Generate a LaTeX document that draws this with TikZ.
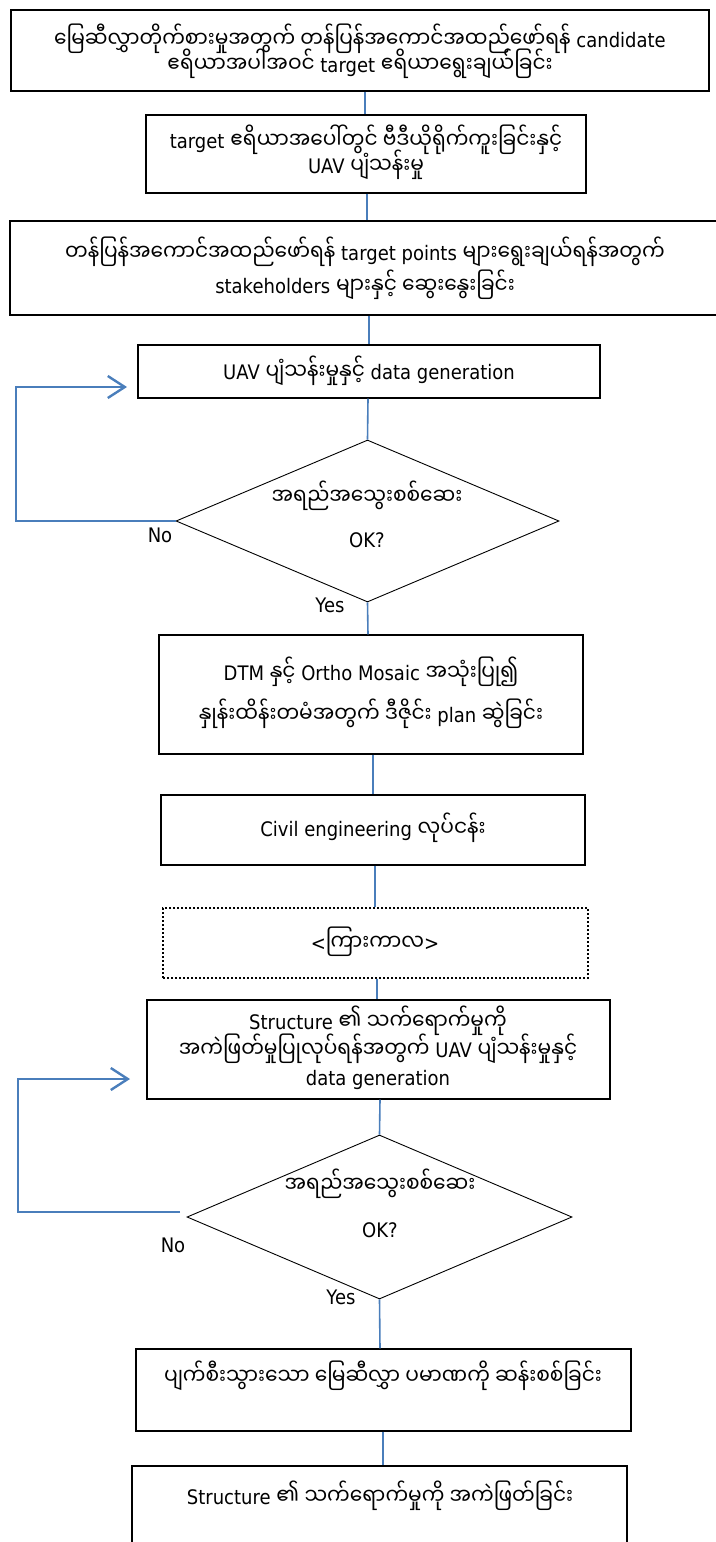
\documentclass[tikz,border=0pt]{standalone}
\usepackage{fontspec}
\setmainfont{DejaVu Sans}[FakeStretch=0.9]
\newfontfamily\myfont[Script=Myanmar,Scale=1.12,FakeStretch=0.9]{Noto Sans Myanmar UI}
\newcommand{\my}[1]{{\myfont #1}}
\usetikzlibrary{shapes.geometric,arrows.meta}
\definecolor{linkblue}{RGB}{74,126,187}

\begin{document}
\begin{tikzpicture}[x=1pt,y=-1pt,
  box/.style={draw, rectangle, line width=1.3pt, inner sep=0pt},
  dotbox/.style={draw, rectangle, line width=2pt, dash pattern=on 2pt off 2pt, inner sep=0pt},
  decision/.style={draw, diamond, line width=0.9pt, inner sep=0pt},
  txt/.style={inner sep=0pt, anchor=mid, font=\fontsize{20}{24}\selectfont},
  conn/.style={draw=linkblue, line width=1.6pt},
  back/.style={draw=linkblue, line width=2pt, -{Straight Barb[length=17pt,width=22pt,line width=2.4pt]}}
]
\useasboundingbox (0,0) rectangle (715,1542);

% process boxes
\node[box, minimum width=698pt, minimum height=81pt] (b1) at (360,50.5) {};
\node[box, minimum width=440pt, minimum height=78pt] (b2) at (366,154) {};
\node[box, minimum width=720pt, minimum height=94pt] (b3) at (370,268) {};
\node[box, minimum width=462pt, minimum height=53pt] (b4) at (369,371.5) {};
\node[decision, minimum width=383pt, minimum height=162pt] (d1) at (367.5,521) {};
\node[box, minimum width=424pt, minimum height=119pt] (b5) at (371,694.5) {};
\node[box, minimum width=424pt, minimum height=70pt] (b6) at (373,830) {};
\node[dotbox, minimum width=425pt, minimum height=70pt] (b7) at (375.5,943) {};
\node[box, minimum width=463pt, minimum height=99pt] (b8) at (378.5,1049.5) {};
\node[decision, minimum width=385pt, minimum height=164pt] (d2) at (379.5,1217) {};
\node[box, minimum width=495pt, minimum height=82pt] (b9) at (383.5,1390) {};
\node[box, minimum width=495pt, minimum height=94pt] (b10) at (379.5,1513) {};

% box texts
\node[txt] (t1a) at (360,45) {\my{မြေဆီလွှာတိုက်စားမှုအတွက် တန်ပြန်အကောင်အထည်ဖော်ရန်} candidate};
\node[txt] (t1b) at (360,70) {\my{ဧရိယာအပါအဝင်} target \my{ဧရိယာရွေးချယ်ခြင်း}};
\node[txt] (t2a) at (366,146) {target \my{ဧရိယာအပေါ်တွင် ဗီဒီယိုရိုက်ကူးခြင်းနှင့်}};
\node[txt] (t2b) at (366,171) {UAV \my{ပျံသန်းမှု}};
\node[txt] (t3a) at (365,258) {\my{တန်ပြန်အကောင်အထည်ဖော်ရန်} target points \my{များရွေးချယ်ရန်အတွက်}};
\node[txt] (t3b) at (365,291) {stakeholders \my{များနှင့် ဆွေးနွေးခြင်း}};
\node[txt] (t4) at (369,377) {UAV \my{ပျံသန်းမှုနှင့်} data generation};
\node[txt] (td1a) at (367,502) {\my{အရည်အသွေးစစ်ဆေး}};
\node[txt] (td1b) at (367,545) {OK?};
\node[txt] (t5a) at (371,678) {DTM \my{နှင့်} Ortho Mosaic \my{အသုံးပြု၍}};
\node[txt] (t5b) at (371,720) {\my{နှုန်းထိန်းတမံအတွက် ဒီဇိုင်း} plan \my{ဆွဲခြင်း}};
\node[txt] (t6) at (373,834) {Civil engineering \my{လုပ်ငန်း}};
\node[txt] (t7) at (375,948) {<\my{ကြားကာလ}>};
\begin{scope}
  % the text of this box runs past its inner margin and is cut off there
  \clip (b8.north west) rectangle (b8.east |- 0,1090);
  \node[txt] (t8a) at (378,1027) {Structure \my{၏ သက်ရောက်မှုကို}};
  \node[txt] (t8b) at (378,1055) {\my{အကဲဖြတ်မှုပြုလုပ်ရန်အတွက်} UAV \my{ပျံသန်းမှုနှင့်}};
  \node[txt] (t8c) at (378,1083) {data generation};
\end{scope}
\node[txt] (td2a) at (380,1190) {\my{အရည်အသွေးစစ်ဆေး}};
\node[txt] (td2b) at (380,1235) {OK?};
\node[txt] (t9) at (383,1382) {\my{ပျက်စီးသွားသော မြေဆီလွှာ ပမာဏကို ဆန်းစစ်ခြင်း}};
\node[txt] (t10) at (380,1502) {Structure \my{၏ သက်ရောက်မှုကို အကဲဖြတ်ခြင်း}};

% decision labels
\node[txt] (no1) at (160,540) {No};
\node[txt] (yes1) at (330,610) {Yes};
\node[txt] (no2) at (173,1250) {No};
\node[txt] (yes2) at (341,1302) {Yes};

% main flow
\draw[conn] (b1.south -| 365,0) -- (b2.north -| 365,0);
\draw[conn] (b2.south -| 367,0) -- (b3.north -| 367,0);
\draw[conn] (b3.south -| 369,0) -- (b4.north -| 369,0);
\draw[conn] (b4.south -| 368,0) -- (d1.north);
\draw[conn] (d1.south) -- (b5.north -| 368,0);
\draw[conn] (b5.south -| 373,0) -- (b6.north -| 373,0);
\draw[conn] (b6.south -| 375,0) -- (b7.north -| 375,0);
\draw[conn] (b7.south -| 377,0) -- (b8.north -| 377,0);
\draw[conn] (b8.south -| 380,0) -- (d2.north);
\draw[conn] (d2.south) -- (b9.north -| 380,0);
\draw[conn] (b9.south -| 383,0) -- (b10.north -| 383,0);

% loops back on "No"
\coordinate (l1) at (16,387);
\coordinate (a1) at (127,387);
\draw[back] (d1.west) -| (l1) -- (a1);
\coordinate (s2) at (180,1212);
\coordinate (l2) at (18,1079);
\coordinate (a2) at (130,1079);
\draw[back] (s2) -| (l2) -- (a2);
\end{tikzpicture}
\end{document}
